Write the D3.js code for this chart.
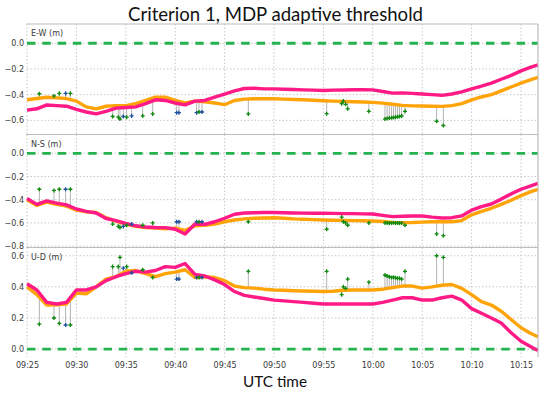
<!DOCTYPE html>
<html><head><meta charset="utf-8">
<script src="https://cdn.jsdelivr.net/npm/d3@7"></script>
<style>body{margin:0;background:#fff}svg{display:block}</style>
</head><body><svg id="c" width="550" height="394"></svg>
<script>
// ---- data (time in minutes after 09:25 UTC) ----
const times = [0,1,2,3,4,5,6,7,8,9,10,11,12,13,14,15,16,17,18,19,20,21,22,23,24,25,26,27,28,29,30,31,32,33,34,35,36,37,38,39,40,41,42,43,44,45,46,47,48,49,50,51,51.72];
const ewPink = [-0.52,-0.51,-0.48,-0.485,-0.49,-0.515,-0.535,-0.55,-0.53,-0.505,-0.50,-0.495,-0.47,-0.44,-0.445,-0.465,-0.48,-0.45,-0.445,-0.42,-0.395,-0.37,-0.352,-0.35,-0.355,-0.355,-0.358,-0.36,-0.363,-0.365,-0.367,-0.365,-0.364,-0.362,-0.362,-0.363,-0.375,-0.388,-0.386,-0.39,-0.395,-0.40,-0.405,-0.395,-0.378,-0.355,-0.333,-0.31,-0.28,-0.25,-0.215,-0.185,-0.168];
const ewOrange = [-0.44,-0.43,-0.42,-0.425,-0.43,-0.45,-0.495,-0.51,-0.49,-0.485,-0.485,-0.47,-0.445,-0.42,-0.42,-0.445,-0.465,-0.45,-0.455,-0.465,-0.478,-0.445,-0.435,-0.432,-0.432,-0.432,-0.435,-0.438,-0.44,-0.444,-0.447,-0.45,-0.452,-0.455,-0.457,-0.46,-0.466,-0.475,-0.483,-0.487,-0.488,-0.49,-0.491,-0.485,-0.47,-0.44,-0.418,-0.40,-0.37,-0.34,-0.31,-0.283,-0.266];
const nsPink = [-0.39,-0.44,-0.41,-0.43,-0.445,-0.48,-0.50,-0.515,-0.562,-0.58,-0.605,-0.625,-0.635,-0.64,-0.641,-0.655,-0.695,-0.61,-0.612,-0.59,-0.56,-0.525,-0.515,-0.512,-0.51,-0.51,-0.512,-0.514,-0.516,-0.517,-0.517,-0.518,-0.52,-0.52,-0.522,-0.523,-0.535,-0.546,-0.543,-0.54,-0.54,-0.55,-0.558,-0.555,-0.54,-0.49,-0.46,-0.437,-0.395,-0.35,-0.31,-0.28,-0.259];
const nsOrange = [-0.40,-0.45,-0.42,-0.44,-0.455,-0.49,-0.505,-0.51,-0.555,-0.585,-0.61,-0.63,-0.64,-0.645,-0.65,-0.645,-0.665,-0.625,-0.62,-0.61,-0.59,-0.575,-0.565,-0.56,-0.558,-0.555,-0.56,-0.565,-0.568,-0.572,-0.575,-0.577,-0.578,-0.58,-0.582,-0.583,-0.588,-0.595,-0.598,-0.597,-0.593,-0.59,-0.59,-0.59,-0.58,-0.53,-0.50,-0.474,-0.44,-0.405,-0.365,-0.33,-0.31];
const udPink = [0.42,0.38,0.30,0.29,0.30,0.38,0.38,0.40,0.44,0.465,0.485,0.50,0.495,0.505,0.53,0.525,0.55,0.48,0.47,0.445,0.415,0.37,0.345,0.335,0.325,0.315,0.31,0.305,0.30,0.295,0.29,0.29,0.29,0.29,0.29,0.29,0.30,0.315,0.33,0.33,0.315,0.315,0.33,0.34,0.315,0.26,0.23,0.20,0.168,0.105,0.05,0.015,-0.01];
const udOrange = [0.40,0.35,0.283,0.285,0.29,0.36,0.355,0.40,0.45,0.465,0.50,0.505,0.485,0.465,0.485,0.495,0.51,0.46,0.465,0.46,0.44,0.405,0.395,0.392,0.385,0.38,0.378,0.375,0.373,0.372,0.37,0.372,0.378,0.38,0.38,0.38,0.385,0.395,0.405,0.405,0.392,0.40,0.41,0.415,0.39,0.35,0.305,0.283,0.243,0.19,0.137,0.10,0.079];

const markTimes = [1.25,2.73,3.27,3.91,4.39,8.67,9.24,9.41,9.75,10.09,10.59,11.71,12.72,15.15,15.38,17.17,17.41,17.71,22.4,30.33,31.85,32.02,32.25,32.46,34.6,36.23,36.45,36.67,36.9,37.1,37.3,37.5,37.7,37.92,38.26,41.46,42.14];
const markKind = ['g','g','g','b','g','g','g','g','b','g','b','g','g','b','b','b','g','b','g','g','g','g','g','g','g','g','g','g','g','g','g','g','g','g','g','g','g'];
const ewMark = [-0.393,-0.41,-0.39,-0.39,-0.39,-0.57,-0.575,-0.59,-0.57,-0.575,-0.565,-0.565,-0.55,-0.54,-0.54,-0.54,-0.535,-0.535,-0.55,-0.548,-0.47,-0.45,-0.475,-0.51,-0.53,-0.59,-0.585,-0.582,-0.58,-0.578,-0.575,-0.572,-0.57,-0.565,-0.53,-0.607,-0.64];
const nsMark = [-0.31,-0.32,-0.31,-0.31,-0.31,-0.61,-0.63,-0.64,-0.63,-0.62,-0.61,-0.62,-0.60,-0.59,-0.59,-0.59,-0.59,-0.59,-0.59,-0.655,-0.55,-0.59,-0.60,-0.62,-0.60,-0.60,-0.60,-0.602,-0.60,-0.598,-0.60,-0.60,-0.602,-0.60,-0.62,-0.695,-0.71];
const udMark = [0.16,0.20,0.165,0.155,0.155,0.53,0.53,0.59,0.52,0.53,0.49,0.51,0.46,0.45,0.45,0.46,0.46,0.46,0.50,0.50,0.35,0.40,0.39,0.45,0.43,0.476,0.47,0.465,0.46,0.462,0.458,0.455,0.455,0.45,0.50,0.60,0.59];

const panelLabels = ['E-W (m)','N-S (m)','U-D (m)'];
const panelTicks = [[0,-0.2,-0.4,-0.6],[0,-0.2,-0.4,-0.6,-0.8],[0,0.2,0.4,0.6]];
const panelDomains = [[-0.71,0.15],[-0.812,0.162],[-0.051,0.653]];
const xTickMinutes = [0,5,10,15,20,25,30,35,40,45,50];
const titleText = 'Criterion 1, MDP adaptive threshold';
const xTitle = 'UTC time';

// ---- layout ----
const L = 27, R = 538;
const panelTops = [24, 134.5, 247.5];
const panelBottoms = [134.5, 247.5, 357];
const C = {pink:'#ff1a85', orange:'#ffa408', zero:'#25b34f', grid:'#c9c9c9', border:'#bdbdbd',
  green:'#108a10', blue:'#1d4f9e', pin:'#b4b4b4', text:'#3a3a3a'};
const t0 = Date.UTC(2020,0,1,9,25);
const toDate = m => new Date(t0 + m*60000);

const svg = d3.select('#c');
svg.append('rect').attr('width',550).attr('height',394).attr('fill','#fff');

const x = d3.scaleUtc().domain([toDate(0), toDate(times[times.length-1])]).range([L,R]);

const panels = [
  {pink:ewPink, orange:ewOrange, mark:ewMark},
  {pink:nsPink, orange:nsOrange, mark:nsMark},
  {pink:udPink, orange:udOrange, mark:udMark}
];

panels.forEach((p,i)=>{
  const top = panelTops[i], bot = panelBottoms[i];
  const y = d3.scaleLinear().domain(panelDomains[i]).range([bot, top]);
  const g = svg.append('g');
  g.selectAll('line.vg').data(xTickMinutes).join('line')
    .attr('x1',d=>x(toDate(d))).attr('x2',d=>x(toDate(d)))
    .attr('y1',top).attr('y2',bot)
    .attr('stroke',C.grid).attr('stroke-width',1).attr('stroke-dasharray','1.5,2');
  g.selectAll('line.hg').data(panelTicks[i]).join('line')
    .attr('x1',L).attr('x2',R).attr('y1',d=>y(d)).attr('y2',d=>y(d))
    .attr('stroke',C.grid).attr('stroke-width',1).attr('stroke-dasharray','1.5,2');
  const ax = d3.axisLeft(y).tickValues(panelTicks[i]).tickFormat(d3.format('.1f')).tickSize(0).tickPadding(3);
  const ag = g.append('g').attr('transform',`translate(${L},0)`).call(ax);
  ag.select('.domain').remove();
  ag.selectAll('text').attr('font-family','DejaVu Sans, Verdana, sans-serif').attr('font-size',8).attr('fill',C.text);
  g.append('line').attr('x1',L-1).attr('x2',R).attr('y1',top).attr('y2',top).attr('stroke',C.border).attr('stroke-width',1.2);
  g.append('line').attr('x1',L).attr('x2',R).attr('y1',y(0)).attr('y2',y(0))
    .attr('stroke',C.zero).attr('stroke-width',2.8).attr('stroke-dasharray','8.5,6.8');
  g.append('text').attr('x',L+4).attr('y',top+12).text(panelLabels[i])
    .attr('font-family','DejaVu Sans, Verdana, sans-serif').attr('font-size',8).attr('fill',C.text);
  const orangeAt = m => {
    const j = Math.max(1, d3.bisectLeft(times, m));
    const a = times[j-1], b = times[j];
    const f = (m-a)/(b-a);
    return p.orange[j-1] + f*(p.orange[j]-p.orange[j-1]);
  };
  g.selectAll('line.pin').data(markTimes).join('line')
    .attr('x1',d=>x(toDate(d))).attr('x2',d=>x(toDate(d)))
    .attr('y1',(d,k)=>y(p.mark[k])).attr('y2',d=>y(orangeAt(d)))
    .attr('stroke',C.pin).attr('stroke-width',1);
  const line = arr => d3.line().x((d,k)=>x(toDate(times[k]))).y(d=>y(d))(arr);
  g.append('path').attr('d',line(p.orange)).attr('fill','none').attr('stroke',C.orange).attr('stroke-width',3.4).attr('stroke-linejoin','round');
  g.append('path').attr('d',line(p.pink)).attr('fill','none').attr('stroke',C.pink).attr('stroke-width',3.4).attr('stroke-linejoin','round');
  const sym = d3.symbol().type(d3.symbolCross).size(9);
  g.selectAll('path.mk').data(markTimes).join('path')
    .attr('d',sym)
    .attr('transform',(d,k)=>`translate(${x(toDate(d))},${y(p.mark[k])})`)
    .attr('fill',(d,k)=>markKind[k]==='b'?C.blue:C.green);
});

svg.append('line').attr('x1',R).attr('x2',R).attr('y1',panelTops[0]).attr('y2',panelBottoms[2]).attr('stroke',C.border).attr('stroke-width',1.2);

const xa = d3.axisBottom(x).tickValues(xTickMinutes.map(toDate)).tickFormat(d3.utcFormat('%H:%M')).tickSize(0).tickPadding(5);
const xg = svg.append('g').attr('transform',`translate(0,${panelBottoms[2]})`).call(xa);
xg.select('.domain').remove();
xg.selectAll('text').attr('font-family','DejaVu Sans, Verdana, sans-serif').attr('font-size',8).attr('fill',C.text);

function fitText(txt, cx, cy, width, fs){
  const t = svg.append('text').attr('x',cx).attr('y',cy).attr('text-anchor','middle')
    .attr('font-family','Lato, "Open Sans", sans-serif').attr('font-size',fs).attr('fill','#111').text(txt);
  const w = t.node().getComputedTextLength();
  t.attr('font-size', fs*width/w);
}
fitText(titleText, 275.5, 20.7, 295, 18);
fitText(xTitle, 275, 386.5, 64, 16);
</script></body></html>
